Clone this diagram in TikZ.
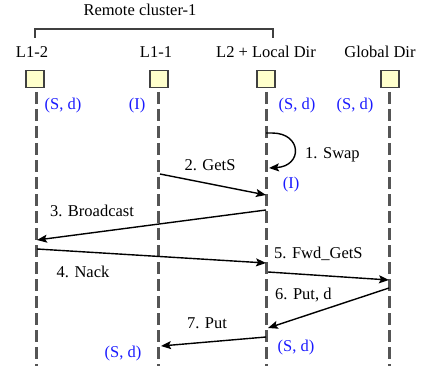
\documentclass[tikz,border=0pt]{standalone}
\usepackage{fontspec}
\setmainfont{Liberation Serif}
\newfontfamily\timesfont{Liberation Serif}
\usetikzlibrary{arrows.meta}
\definecolor{lifegray}{HTML}{555555}
\definecolor{boxgray}{HTML}{404040}
\definecolor{boxfill}{HTML}{FFFFCC}
\definecolor{stblue}{HTML}{1A1AFF}
\begin{document}
\begin{tikzpicture}[x=1pt,y=-1pt,
  lbl/.style={font=\timesfont\fontsize{16.5}{19}\selectfont, inner sep=0pt, anchor=base},
  st/.style={lbl, text=stblue},
  hbox/.style={draw=boxgray, fill=boxfill, line width=1.6pt, minimum width=18pt, minimum height=17pt, inner sep=0pt},
  life/.style={draw=lifegray, line width=3pt, dash pattern=on 12pt off 5pt},
  msg/.style={draw=black, line width=1.4pt, -{Stealth[length=10pt,width=8pt,inset=2pt]}},
  brk/.style={draw=boxgray, line width=1.2pt}]
\useasboundingbox (0,0) rectangle (422,366);

% header
\node[lbl] (rc) at (140,16) {Remote cluster-1};
\coordinate (bl) at (35,38);
\coordinate (br) at (273,38);
\draw[brk] (bl) -- ++(0,-9) -| (br);

\node[lbl] (h1) at (32,58) {L1-2};
\node[lbl] (h2) at (156,58) {L1-1};
\node[lbl] (h3) at (266,58) {L2 + Local Dir};
\node[lbl] (h4) at (380,58) {Global Dir};

% boxes
\node[hbox] (b1) at (35,79) {};
\node[hbox] (b2) at (159,79) {};
\node[hbox] (b3) at (266,79) {};
\node[hbox] (b4) at (390,79) {};

% lifelines
\coordinate (t1) at (36,92);  \coordinate (e1) at (36,366);
\coordinate (t2) at (158,92); \coordinate (e2) at (158,366);
\coordinate (t3) at (266,92); \coordinate (e3) at (266,366);
\coordinate (t4) at (389,92); \coordinate (e4) at (389,366);
\draw[life] (t1) -- (e1);
\draw[life] (t2) -- (e2);
\draw[life] (t3) -- (e3);
\draw[life] (t4) -- (e4);

% initial states
\node[st] (s1) at (63,110) {(S, d)};
\node[st] (s2) at (137,110) {(I)};
\node[st] (s3) at (297,110) {(S, d)};
\node[st] (s4) at (355,110) {(S, d)};

% 1. Swap
\coordinate (sw0) at (266,133);
\coordinate (sw1) at (272,133);
\coordinate (sw2) at (269,168);
\draw[msg] (sw0) -- (sw1) .. controls (302,133) and (303,166) .. (sw2);
\node[lbl, anchor=base west] (l1) at (305,158) {1. Swap};
\node[st] (s5) at (291,188) {(I)};

% 2. GetS
\coordinate (a2) at (160,174);
\coordinate (z2) at (266,195);
\draw[msg] (a2) -- (z2);
\node[lbl] (l2) at (210,170) {2. GetS};

% 3. Broadcast
\coordinate (a3) at (266,210);
\coordinate (z3) at (37,240);
\draw[msg] (a3) -- (z3);
\node[lbl] (l3) at (92,216) {3. Broadcast};

% 4. Nack
\coordinate (a4) at (37,249);
\coordinate (z4) at (266,263);
\draw[msg] (a4) -- (z4);
\node[lbl] (l4) at (83,277) {4. Nack};

% 5. Fwd_GetS
\coordinate (a5) at (268,272);
\coordinate (z5) at (389,280);
\draw[msg] (a5) -- (z5);
\node[lbl, anchor=base west] (l5) at (274,258) {5. Fwd\_GetS};

% 6. Put, d
\coordinate (a6) at (389,288);
\coordinate (z6) at (268,328);
\draw[msg] (a6) -- (z6);
\node[lbl, anchor=base west] (l6) at (275,299) {6. Put, d};

% 7. Put
\coordinate (a7) at (266,337);
\coordinate (z7) at (161,346);
\draw[msg] (a7) -- (z7);
\node[lbl] (l7) at (207,328) {7. Put};

% final states
\node[st] (s6) at (123,357) {(S, d)};
\node[st] (s7) at (296,351) {(S, d)};
\end{tikzpicture}
\end{document}
